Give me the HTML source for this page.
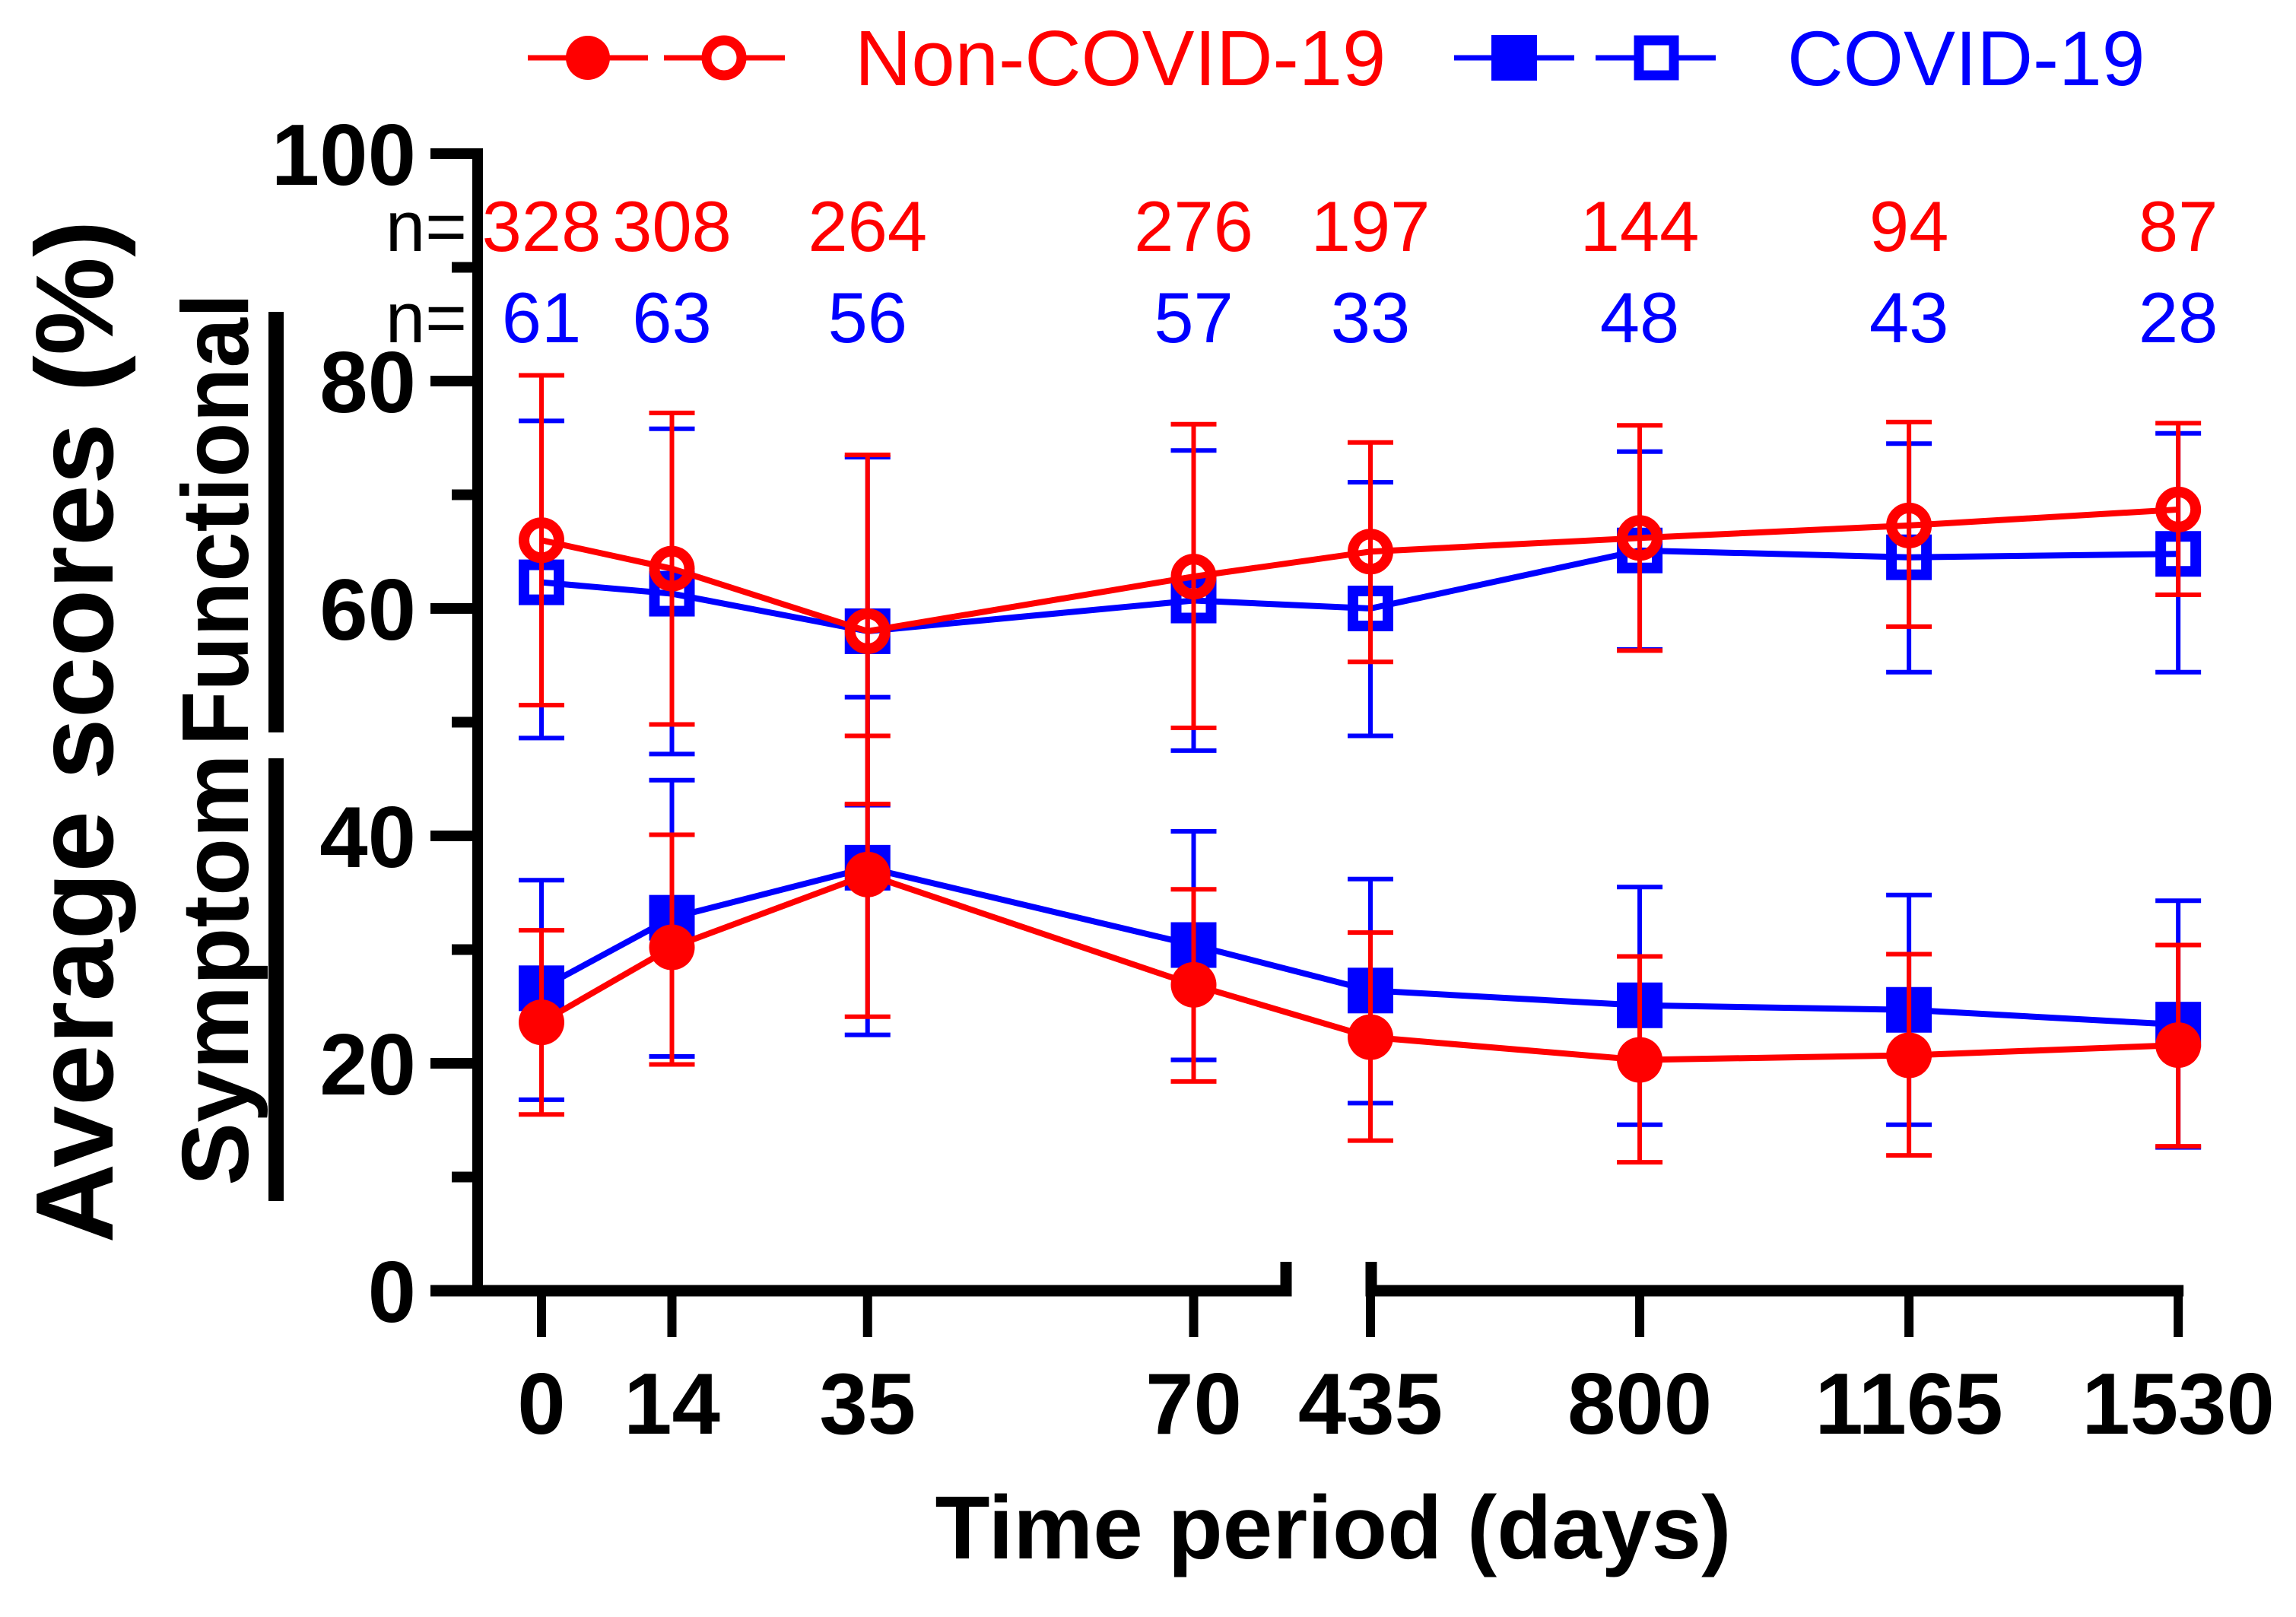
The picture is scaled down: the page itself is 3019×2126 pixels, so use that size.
<!DOCTYPE html>
<html><head><meta charset="utf-8"><style>
html,body{margin:0;padding:0;background:#fff;}
svg{display:block;font-family:"Liberation Sans",Arial,sans-serif;}
</style></head><body>
<svg id="chart" xmlns="http://www.w3.org/2000/svg" width="3019" height="2126" viewBox="0 0 3019 2126">
<g id="axes"></g>
<g id="series"></g>
<g id="labels"></g>
</svg>
<script>
const days = [0, 14, 35, 70, 435, 800, 1165, 1530];
const yTicks = [0, 20, 40, 60, 80, 100];
const nonCovidN = [328, 308, 264, 276, 197, 144, 94, 87];
const covidN = [61, 63, 56, 57, 33, 48, 43, 28];
// Functional (open markers)
const funcNon = [66, 63.5, 58, 62.8, 65, 66.2, 67.3, 68.7];
const funcNonLo = [51.5, 49.8, 42.8, 49.5, 55.3, 56.3, 58.4, 61.2];
const funcNonHi = [80.5, 77.2, 73.5, 76.2, 74.6, 76.1, 76.4, 76.3];
const funcCov = [62.3, 61.3, 58, 60.7, 60, 65.1, 64.5, 64.8];
const funcCovLo = [48.6, 47.2, 42.7, 47.5, 48.8, 56.4, 54.4, 54.4];
const funcCovHi = [76.5, 75.8, 73.3, 73.9, 71.1, 73.8, 74.5, 75.4];
// Symptom (filled markers)
const symNon = [23.6, 30.2, 36.6, 26.9, 22.3, 20.3, 20.7, 21.6];
const symNonLo = [15.5, 19.9, 24.1, 18.4, 13.2, 11.3, 11.9, 12.7];
const symNonHi = [31.7, 40.1, 48.8, 35.3, 31.5, 29.4, 29.6, 30.4];
const symCov = [26.6, 32.8, 37.2, 30.4, 26.4, 25.1, 24.7, 23.4];
const symCovLo = [16.8, 20.6, 22.5, 20.3, 16.5, 14.6, 14.6, 12.6];
const symCovHi = [36.1, 44.9, 52.2, 40.4, 36.2, 35.5, 34.8, 34.3];

const NS = "http://www.w3.org/2000/svg";
function X(d){ return d <= 70 ? 712 + d*12.25 : 1802 + (d-435)*0.97; }
function Y(v){ return 1697 - v*14.95; }
function mk(tag, attrs, parent){
  const e = document.createElementNS(NS, tag);
  for (const k in attrs) e.setAttribute(k, attrs[k]);
  parent.appendChild(e); return e;
}
const axes = document.getElementById('axes');
const series = document.getElementById('series');
const labels = document.getElementById('labels');

// Y axis
let e = mk('line',{x1:628,y1:Y(100)-7,x2:628,y2:1704,stroke:'#000','stroke-width':14},axes);


for (let v=0; v<=100; v+=10){
  const major = v%20===0;
  e = mk('line',{x1:major?566:594,y1:Y(v),x2:628,y2:Y(v),stroke:'#000','stroke-width':14},axes);
  
  
}
yTicks.forEach(v=>{
  e = mk('text',{x:547,y:Y(v)+41,'text-anchor':'end','font-size':114,'font-weight':'bold',fill:'#000'},labels);
  e.textContent = v;
  
  
});
// X axis (broken)
e = mk('path',{d:`M566,1697 H1691 V1659 M1803,1659 V1697 H${X(1530)+7}`,stroke:'#000','stroke-width':15,fill:'none'},axes);


days.forEach((d,i)=>{
  e = mk('line',{x1:X(d),y1:1697,x2:X(d),y2:1758,stroke:'#000','stroke-width':12},axes);
  
  
  e = mk('text',{x:X(d),y:1885,'text-anchor':'middle','font-size':114,'font-weight':'bold',fill:'#000'},labels);
  e.textContent = d;
  
  
  e = mk('text',{x:X(d),y:330,'text-anchor':'middle','font-size':94,fill:'#ff0000'},labels);
  e.textContent = nonCovidN[i];
  
  
  e = mk('text',{x:X(d),y:450,'text-anchor':'middle','font-size':94,fill:'#0000ff'},labels);
  e.textContent = covidN[i];
  
  
});
['n=','n='].forEach((t,i)=>{
  e = mk('text',{x:614,y:i?450:330,'text-anchor':'end','font-size':94,fill:'#000'},labels);
  e.textContent = t;
  
  
});

function drawSeries(vals, lo, hi, color, shape, filled, name){
  const g = mk('g',{},series);
  
  
  days.forEach((d,i)=>{
    const x = X(d);
    let b = mk('path',{d:`M${x},${Y(lo[i])} V${Y(hi[i])} M${x-30},${Y(lo[i])} H${x+30} M${x-30},${Y(hi[i])} H${x+30}`,stroke:color,'stroke-width':6,fill:'none'},g);
    
    
  });
  let p = mk('polyline',{points:days.map((d,i)=>X(d)+','+Y(vals[i])).join(' '),stroke:color,'stroke-width':8,fill:'none'},g);
  
  
  days.forEach((d,i)=>{
    const x = X(d), y = Y(vals[i]);
    let m;
    if (shape==='circle'){
      m = filled ? mk('circle',{cx:x,cy:y,r:30,fill:color},g)
                 : mk('circle',{cx:x,cy:y,r:23,fill:'none',stroke:color,'stroke-width':14},g);
    } else {
      m = filled ? mk('rect',{x:x-30,y:y-30,width:60,height:60,fill:color},g)
                 : mk('rect',{x:x-23,y:y-23,width:46,height:46,fill:'none',stroke:color,'stroke-width':14},g);
    }
    
    
  });
}
drawSeries(funcCov, funcCovLo, funcCovHi, '#0000ff', 'square', false, 'covid-functional-series');
drawSeries(symCov, symCovLo, symCovHi, '#0000ff', 'square', true, 'covid-symptom-series');
drawSeries(funcNon, funcNonLo, funcNonHi, '#ff0000', 'circle', false, 'non-covid-functional-series');
drawSeries(symNon, symNonLo, symNonHi, '#ff0000', 'circle', true, 'non-covid-symptom-series');

// Legend
const lg = mk('g',{},labels);


mk('line',{x1:694,y1:76,x2:852,y2:76,stroke:'#ff0000','stroke-width':7},lg);
mk('circle',{cx:773,cy:76,r:29,fill:'#ff0000'},lg);
mk('line',{x1:873,y1:76,x2:1032,y2:76,stroke:'#ff0000','stroke-width':7},lg);
mk('circle',{cx:952,cy:76,r:23,fill:'#fff',stroke:'#ff0000','stroke-width':13},lg);
e = mk('text',{x:1124,y:112,'font-size':103,fill:'#ff0000'},lg);
e.textContent = 'Non-COVID-19';


mk('line',{x1:1912,y1:76,x2:2070,y2:76,stroke:'#0000ff','stroke-width':7},lg);
mk('rect',{x:1961,y:46,width:60,height:60,fill:'#0000ff'},lg);
mk('line',{x1:2098,y1:76,x2:2256,y2:76,stroke:'#0000ff','stroke-width':7},lg);
mk('rect',{x:2155,y:53,width:46,height:46,fill:'#fff',stroke:'#0000ff','stroke-width':13},lg);
e = mk('text',{x:2350,y:112,'font-size':102,fill:'#0000ff'},lg);
e.textContent = 'COVID-19';



// Titles
e = mk('text',{x:1753,y:2049,'text-anchor':'middle','font-size':118,'font-weight':'bold',fill:'#000'},labels);
e.textContent = 'Time period (days)';


e = mk('text',{x:0,y:0,transform:'translate(148,962) rotate(-90)','text-anchor':'middle','font-size':145,'font-weight':'bold',textLength:1345,lengthAdjust:'spacing',fill:'#000'},labels);
e.textContent = 'Average scores (%)';


e = mk('text',{x:0,y:0,transform:'translate(326,683) rotate(-90)','text-anchor':'middle','font-size':124,'font-weight':'bold',textLength:595,lengthAdjust:'spacingAndGlyphs',fill:'#000'},labels);
e.textContent = 'Functional';


e = mk('text',{x:0,y:0,transform:'translate(326,1275) rotate(-90)','text-anchor':'middle','font-size':124,'font-weight':'bold',textLength:568,lengthAdjust:'spacingAndGlyphs',fill:'#000'},labels);
e.textContent = 'Symptom';


e = mk('line',{x1:363,y1:410,x2:363,y2:963,stroke:'#000','stroke-width':20},labels);


e = mk('line',{x1:363,y1:997,x2:363,y2:1579,stroke:'#000','stroke-width':20},labels);


</script>
</body></html>
